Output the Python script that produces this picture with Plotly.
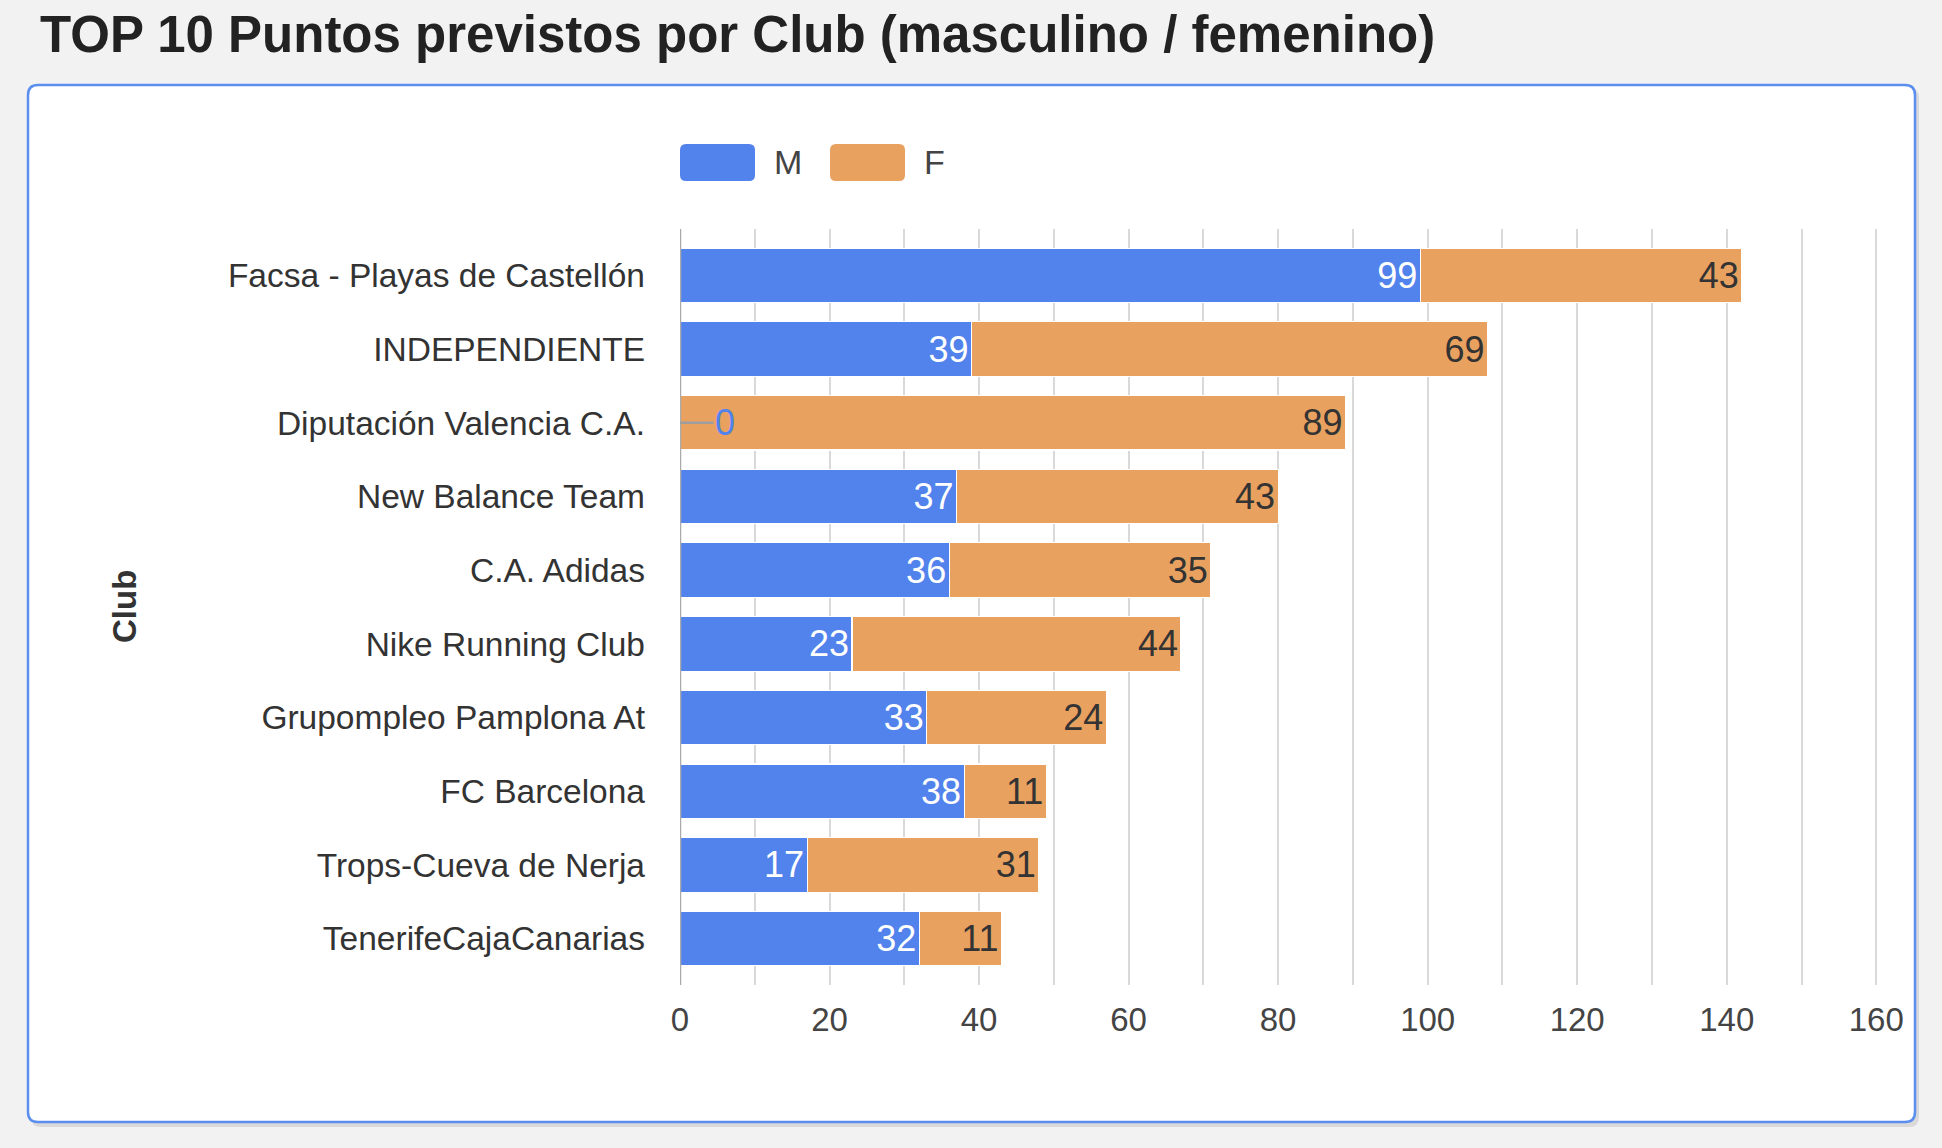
import plotly.graph_objects as go

clubs = ["Facsa - Playas de Castellón", "INDEPENDIENTE", "Diputación Valencia C.A.",
         "New Balance Team", "C.A. Adidas", "Nike Running Club", "Grupompleo Pamplona At",
         "FC Barcelona", "Trops-Cueva de Nerja", "TenerifeCajaCanarias"]
m_values = [99, 39, 0, 37, 36, 23, 33, 38, 17, 32]
f_values = [43, 69, 89, 43, 35, 44, 24, 11, 31, 11]
x_ticks = [0, 20, 40, 60, 80, 100, 120, 140, 160]

W, H = 1942, 1148
L, R, T, B = 680, 62, 229, 163
PW, PH = W - L - R, H - T - B
BLUE = "#5283ec"
ORANGE = "#e9a160"
FONT = "Liberation Sans, Arial, Helvetica, sans-serif"

def px(x):
    return (x - L) / PW

def py(y):
    return (H - B - y) / PH

fig = go.Figure()
fig.add_trace(go.Bar(
    y=clubs, x=m_values, orientation="h", name="M",
    marker=dict(color=BLUE, line=dict(color="white", width=1.2)),
    text=[str(v) if v > 0 else "" for v in m_values],
    textposition="inside", insidetextanchor="end",
    textfont=dict(color="white", size=36, family=FONT),
    constraintext="none", cliponaxis=False, showlegend=False,
))
fig.add_trace(go.Bar(
    y=clubs, x=f_values, orientation="h", name="F",
    marker=dict(color=ORANGE, line=dict(color="white", width=1.2)),
    text=[str(v) for v in f_values],
    textposition="inside", insidetextanchor="end",
    textfont=dict(color="#333333", size=36, family=FONT),
    constraintext="none", cliponaxis=False, showlegend=False,
))

# zero-value labels with leader line
for c, v in zip(clubs, m_values):
    if v == 0:
        fig.add_annotation(x=v, y=c, xref="x", yref="y", text=str(v),
                           showarrow=True, arrowhead=0, arrowwidth=2.5,
                           arrowcolor="#9e9e9e", ax=45, ay=0, standoff=0,
                           font=dict(color=BLUE, size=36, family=FONT))

def rrect(x0, y0, x1, y1, r):
    rx, ry = r / PW, r / PH
    X0, X1, Y0, Y1 = px(x0), px(x1), py(y0), py(y1)  # Y0 top, Y1 bottom
    return (f"M {X0+rx},{Y0} L {X1-rx},{Y0} Q {X1},{Y0} {X1},{Y0-ry} "
            f"L {X1},{Y1+ry} Q {X1},{Y1} {X1-rx},{Y1} L {X0+rx},{Y1} "
            f"Q {X0},{Y1} {X0},{Y1+ry} L {X0},{Y0-ry} Q {X0},{Y0} {X0+rx},{Y0} Z")

shapes = [
    dict(type="path", xref="paper", yref="paper", path=rrect(31, 88, 1919, 1127, 10),
         fillcolor="rgba(0,0,0,0.10)", line=dict(width=0), layer="below"),
    dict(type="path", xref="paper", yref="paper", path=rrect(28, 85, 1915, 1122, 10),
         fillcolor="white", line=dict(color="#5b8eee", width=2.5), layer="below"),
    dict(type="path", xref="paper", yref="paper", path=rrect(680, 144, 755, 181, 6),
         fillcolor=BLUE, line=dict(width=0)),
    dict(type="path", xref="paper", yref="paper", path=rrect(830, 144, 905, 181, 6),
         fillcolor=ORANGE, line=dict(width=0)),
]
fig.update_layout(shapes=shapes)

fig.add_annotation(xref="paper", yref="paper", x=px(772), y=py(162), text="M",
                   showarrow=False, xanchor="left", yanchor="middle",
                   font=dict(size=34, color="#444444", family=FONT))
fig.add_annotation(xref="paper", yref="paper", x=px(922), y=py(162), text="F",
                   showarrow=False, xanchor="left", yanchor="middle",
                   font=dict(size=34, color="#444444", family=FONT))
fig.add_annotation(xref="paper", yref="paper", x=px(124), y=py(607), text="<b>Club</b>",
                   showarrow=False, textangle=-90, xanchor="center", yanchor="middle",
                   font=dict(size=33, color="#333333", family=FONT))

fig.update_layout(
    width=W, height=H,
    margin=dict(l=L, r=R, t=T, b=B, pad=0),
    paper_bgcolor="#f2f2f2", plot_bgcolor="rgba(0,0,0,0)",
    barmode="stack", bargap=0.26,
    title=dict(text="<b>TOP 10 Puntos previstos por Club (masculino / femenino)</b>",
               xref="container", yref="container", x=40 / W, xanchor="left",
               y=1 - 34 / H, yanchor="middle",
               font=dict(size=51, color="#222222", family=FONT)),
    font=dict(family=FONT, color="#333333"),
    xaxis=dict(range=[0, 160.5], tickvals=x_ticks, ticktext=[str(t) for t in x_ticks],
               showgrid=True, gridcolor="#d9d9d9", gridwidth=2,
               minor=dict(dtick=10, showgrid=True, gridcolor="#d9d9d9", gridwidth=2),
               zeroline=False, showline=False, ticks="",
               ticklabelstandoff=12, tickfont=dict(size=33, color="#444444", family=FONT),
               fixedrange=True),
    yaxis=dict(categoryorder="array", categoryarray=clubs, range=[9.63, -0.63],
               showgrid=False, zeroline=False, ticks="", showline=False,
               ticklabelstandoff=34, tickfont=dict(size=33.5, color="#333333", family=FONT),
               fixedrange=True),
)
# zero baseline
fig.add_shape(type="line", xref="x", yref="paper", x0=0, x1=0, y0=0, y1=1,
              line=dict(color="#aaaaaa", width=2.5), layer="above")

fig.write_html("out.html", config={"displayModeBar": False},
               post_script="document.body.style.margin='0';document.body.style.overflow='hidden';")
